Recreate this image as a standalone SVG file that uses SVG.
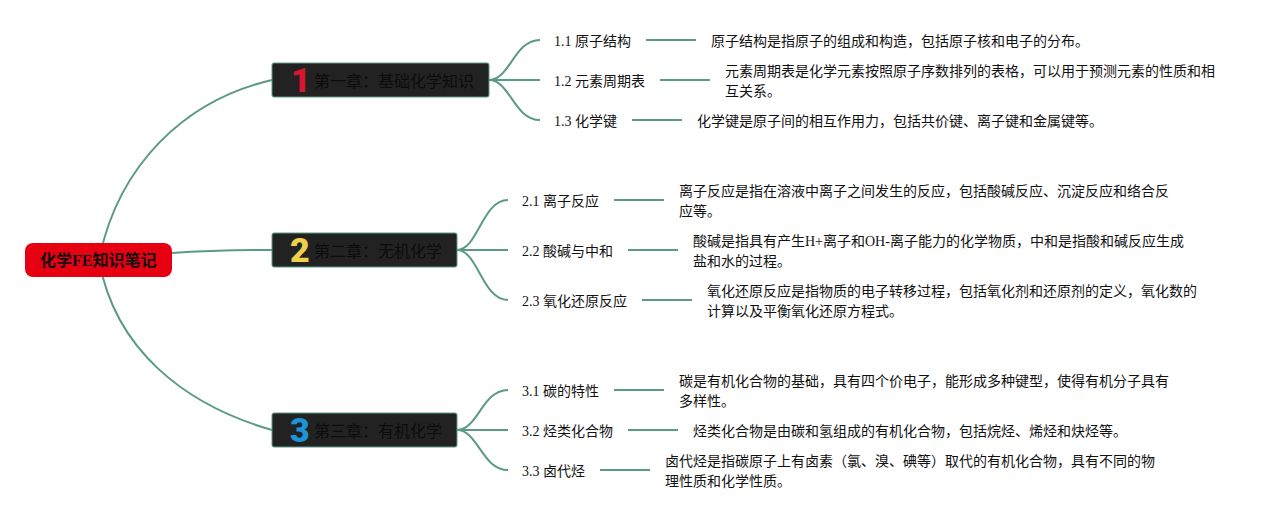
<svg xmlns="http://www.w3.org/2000/svg" width="1285" height="520" viewBox="0 0 1285 520">
<style>
text{font-family:"Liberation Serif","Noto Sans CJK SC",serif;font-size:14px;fill:#111}
.c path{fill:none;stroke:#5b9a86;stroke-width:2}
.ch{fill:#222;stroke:#5b9a86;stroke-width:1}
.t{fill:#0c0c0c;font-size:16px}
.n{font-family:Roboto,"Liberation Sans",sans-serif;font-weight:900;font-size:34px}
</style>
<rect width="1285" height="520" fill="#fff"/>
<g class="c" id="connectors">
<path d="M99 260C118 165 185 100 272 80"/>
<path d="M172 253C200 251 240 250 272 250"/>
<path d="M99 260C115 350 185 405 272 430"/>
<path d="M489 80C510 80 514 40 540 40"/>
<path d="M489 80H540"/>
<path d="M489 80C510 80 514 120 540 120"/>
<path d="M457 250C478 250 482 200 508 200"/>
<path d="M457 250H508"/>
<path d="M457 250C478 250 482 300 508 300"/>
<path d="M457 430C478 430 482 390 508 390"/>
<path d="M457 430H508"/>
<path d="M457 430C478 430 482 470 508 470"/>
<path d="M646 40H696"/><path d="M660 80H710"/><path d="M632 120H682"/>
<path d="M614 200H664"/><path d="M628 250H678"/><path d="M642 300H692"/>
<path d="M614 390H664"/><path d="M628 430H678"/><path d="M600 470H650"/>
</g>
<g id="root"><rect x="25" y="243" width="147" height="34" rx="8" fill="#e60012"/><text x="40" y="266" style="font-size:16px;font-weight:700">化学FE知识笔记</text></g>
<g id="ch1"><rect class="ch" x="272" y="63" width="217" height="34" rx="2"/><text class="n" x="291" y="92" style="fill:#d9152f">1</text><text class="t" x="314" y="87">第一章：基础化学知识</text></g>
<g id="ch2"><rect class="ch" x="272" y="233" width="185" height="34" rx="2"/><text class="n" x="290" y="262" style="fill:#eed04a">2</text><text class="t" x="314" y="257">第二章：无机化学</text></g>
<g id="ch3"><rect class="ch" x="272" y="413" width="185" height="34" rx="2"/><text class="n" x="290" y="442" style="fill:#1b94d8">3</text><text class="t" x="314" y="437">第三章：有机化学</text></g>
<g id="n11"><text x="554" y="46">1.1 原子结构</text><text x="711" y="46">原子结构是指原子的组成和构造，包括原子核和电子的分布。</text></g>
<g id="n12"><text x="554" y="86">1.2 元素周期表</text><text x="725" y="76">元素周期表是化学元素按照原子序数排列的表格，可以用于预测元素的性质和相</text><text x="725" y="96">互关系。</text></g>
<g id="n13"><text x="554" y="126">1.3 化学键</text><text x="697" y="126">化学键是原子间的相互作用力，包括共价键、离子键和金属键等。</text></g>
<g id="n21"><text x="522" y="206">2.1 离子反应</text><text x="679" y="196">离子反应是指在溶液中离子之间发生的反应，包括酸碱反应、沉淀反应和络合反</text><text x="679" y="216">应等。</text></g>
<g id="n22"><text x="522" y="256">2.2 酸碱与中和</text><text x="693" y="246">酸碱是指具有产生H+离子和OH-离子能力的化学物质，中和是指酸和碱反应生成</text><text x="693" y="266">盐和水的过程。</text></g>
<g id="n23"><text x="522" y="306">2.3 氧化还原反应</text><text x="707" y="296">氧化还原反应是指物质的电子转移过程，包括氧化剂和还原剂的定义，氧化数的</text><text x="707" y="316">计算以及平衡氧化还原方程式。</text></g>
<g id="n31"><text x="522" y="396">3.1 碳的特性</text><text x="679" y="386">碳是有机化合物的基础，具有四个价电子，能形成多种键型，使得有机分子具有</text><text x="679" y="406">多样性。</text></g>
<g id="n32"><text x="522" y="436">3.2 烃类化合物</text><text x="693" y="436">烃类化合物是由碳和氢组成的有机化合物，包括烷烃、烯烃和炔烃等。</text></g>
<g id="n33"><text x="522" y="476">3.3 卤代烃</text><text x="665" y="466">卤代烃是指碳原子上有卤素（氯、溴、碘等）取代的有机化合物，具有不同的物</text><text x="665" y="486">理性质和化学性质。</text></g>
</svg>
